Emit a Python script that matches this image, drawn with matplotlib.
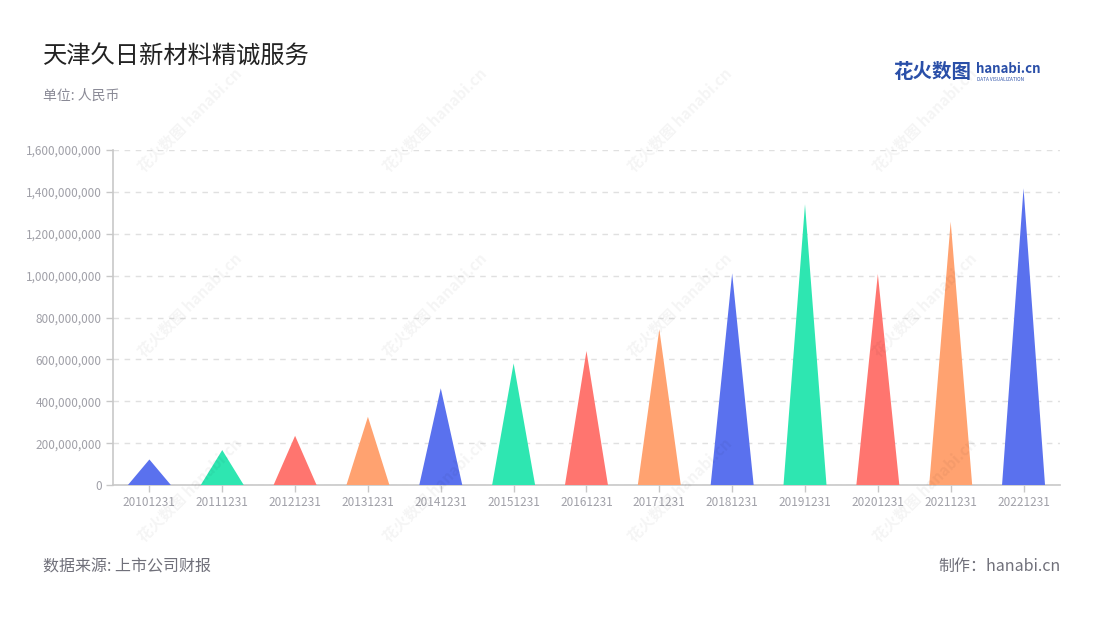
import matplotlib
matplotlib.use("Agg")
import matplotlib.pyplot as plt
from matplotlib.ticker import FuncFormatter, MultipleLocator

plt.rcParams['font.family'] = ['Noto Sans CJK SC', 'DejaVu Sans']

categories = ["20101231", "20111231", "20121231", "20131231", "20141231", "20151231",
              "20161231", "20171231", "20181231", "20191231", "20201231", "20211231", "20221231"]
values = [122e6, 167e6, 235e6, 326e6, 462e6, 581e6, 640e6, 744e6,
          1011e6, 1341e6, 1008e6, 1258e6, 1417e6]
palette = ["#5A71EE", "#2EE6B1", "#FF756F", "#FFA270"]

title = "天津久日新材料精诚服务"
subtitle = "单位: 人民币"
source = "数据来源: 上市公司财报"
maker = "制作：hanabi.cn"

fig = plt.figure(figsize=(11, 6.2), dpi=100)
ax = fig.add_axes([0.1027, 0.2177, 0.8609, 0.5403])

half = 0.295
for i, v in enumerate(values):
    ax.fill([i - half, i, i + half], [0, v, 0], color=palette[i % 4], lw=0, zorder=3)

ax.set_xlim(-0.5, len(categories) - 0.5)
ax.set_ylim(0, 1.6e9)
ax.yaxis.set_major_locator(MultipleLocator(2e8))
ax.yaxis.set_major_formatter(FuncFormatter(lambda x, p: f"{int(round(x)):,}"))
ax.set_xticks(range(len(categories)))
ax.set_xticklabels(categories)

ax.grid(axis="y", color="#E0E0E0", linestyle=(0, (4, 4)), linewidth=1, zorder=0)
ax.set_axisbelow(True)
for s in ["top", "right"]:
    ax.spines[s].set_visible(False)
for s in ["left", "bottom"]:
    ax.spines[s].set_color("#C8C8C8")
    ax.spines[s].set_linewidth(1.2)
ax.tick_params(axis="both", colors="#C8C8C8", labelcolor="#A0A0A8", labelsize=8.5, length=5, width=1)
ax.tick_params(axis="x", pad=3)
ax.tick_params(axis="y", pad=3)

# watermarks (overlay)
for cx in [190, 435, 680, 925]:
    for cy in [120, 305, 490]:
        fig.text(cx / 1100, 1 - cy / 620, "花火数图 hanabi.cn", rotation=45, fontsize=11,
                 color="#000000", alpha=0.045, ha="center", va="center",
                 fontweight="bold", zorder=10)

fig.text(0.039, 0.908, title, fontsize=17.5, color="#222222", ha="left", va="center")
fig.text(0.039, 0.845, subtitle, fontsize=10, color="#8A8A96", ha="left", va="center")
fig.text(0.039, 0.086, source, fontsize=11.5, color="#70707A", ha="left", va="center")
fig.text(0.964, 0.086, maker, fontsize=11.5, color="#70707A", ha="right", va="center")

# logo
fig.text(0.812, 0.883, "花火数图", fontsize=14, color="#2A4FA8", ha="left", va="center", fontweight="bold")
fig.text(0.887, 0.889, "hanabi.cn", fontsize=9.5, color="#2A4FA8", ha="left", va="center", fontweight="bold")
fig.text(0.888, 0.871, "DATA VISUALIZATION", fontsize=3.4, color="#2A4FA8", ha="left", va="center")

fig.savefig("out.png", dpi=100)
